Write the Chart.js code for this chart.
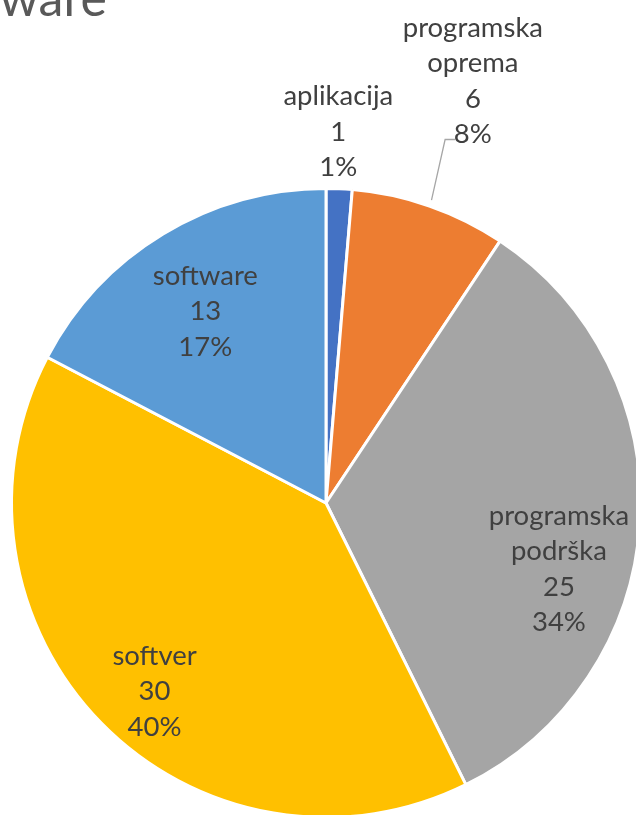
<!DOCTYPE html>
<html lang="hr">
<head>
    <meta charset="UTF-8">
    <title>Software</title>
    <script src="https://cdn.jsdelivr.net/npm/chart.js@4"></script>
    <style>
        html, body {
            margin: 0;
            padding: 0;
            overflow: hidden;
            background-color: #ffffff;
            width: 636px;
            height: 815px;
        }

        #wrap {
            position: absolute;
            left: 0;
            top: 0;
            width: 652px;
            height: 1006px;
        }
    </style>
</head>
<body>
<div id="wrap">
    <canvas id="pieChart"></canvas>
</div>

<script>
    // Podaci
    const nazivi = ['aplikacija', 'programska oprema', 'programska podrška', 'softver', 'software'];
    const vrijednosti = [1, 6, 25, 30, 13];
    const postoci = [1, 8, 34, 40, 17]; // zaokruženo tako da zbroj bude 100
    const boje = ['#4472C4', '#ED7D31', '#A5A5A5', '#FFC000', '#5B9BD5'];

    // Smještaj oznaka: udio polumjera i pomak kuta (stupnjevi)
    const smjestaj = [
        { r: 1.18, kut: -0.5, vani: true },
        { r: 1.42, kut: 0, vani: true },
        { r: 0.77, kut: 12.3 },
        { r: 0.81, kut: -3.3 },
        { r: 0.72, kut: -1 }
    ];

    const FONT = 'Lato, "Open Sans", sans-serif';

    // Redovi teksta za svaku oznaku
    function redovi(i) {
        const ime = nazivi[i];
        const linije = ime.startsWith('programska') ? ime.split(' ') : [ime];
        return linije.concat([String(vrijednosti[i]), postoci[i] + '%']);
    }

    const oznake = {
        id: 'oznake',
        afterDatasetsDraw(chart) {
            const ctx = chart.ctx;
            const meta = chart.getDatasetMeta(0);
            ctx.save();
            ctx.font = '27.5px ' + FONT;
            ctx.fillStyle = '#404040';
            ctx.textAlign = 'center';
            ctx.textBaseline = 'middle';
            const razmak = 35.5;

            meta.data.forEach((arc, i) => {
                const p = arc.getProps(['x', 'y', 'startAngle', 'endAngle', 'outerRadius'], true);
                const sredina = (p.startAngle + p.endAngle) / 2 + smjestaj[i].kut * Math.PI / 180;
                const d = p.outerRadius * smjestaj[i].r;
                const cx = p.x + Math.cos(sredina) * d;
                const cy = p.y + Math.sin(sredina) * d;
                const linije = redovi(i);
                const y0 = cy - (linije.length - 1) * razmak / 2;
                linije.forEach((t, k) => ctx.fillText(t, cx, y0 + k * razmak));

                // linija vodilica za manju vanjsku oznaku
                if (smjestaj[i].vani && smjestaj[i].r > 1.3) {
                    const a1 = p.outerRadius * 1.02;
                    const a2 = p.outerRadius * 1.2;
                    const x1 = p.x + Math.cos(sredina) * a1;
                    const y1 = p.y + Math.sin(sredina) * a1;
                    const x2 = p.x + Math.cos(sredina) * a2;
                    const y2 = y0 + (linije.length - 1) * razmak;
                    ctx.strokeStyle = '#A6A6A6';
                    ctx.lineWidth = 1.3;
                    ctx.beginPath();
                    ctx.moveTo(x1, y1);
                    ctx.lineTo(x2 - 5, y2 + 5);
                    ctx.lineTo(x2 + 5, y2 + 5);
                    ctx.stroke();
                }
            });

            // naslov
            ctx.font = '50px ' + FONT;
            ctx.fillStyle = '#595959';
            ctx.textAlign = 'right';
            ctx.textBaseline = 'alphabetic';
            ctx.fillText('Software', 107, 16);
            ctx.restore();
        }
    };

    new Chart(document.getElementById('pieChart').getContext('2d'), {
        type: 'pie',
        data: {
            labels: nazivi,
            datasets: [{
                data: vrijednosti,
                backgroundColor: boje,
                borderColor: '#ffffff',
                borderWidth: 3
            }]
        },
        options: {
            responsive: true,
            maintainAspectRatio: false,
            animation: false,
            layout: { padding: 10 },
            plugins: {
                legend: { display: false },
                tooltip: { enabled: false }
            }
        },
        plugins: [oznake]
    });
</script>
</body>
</html>
